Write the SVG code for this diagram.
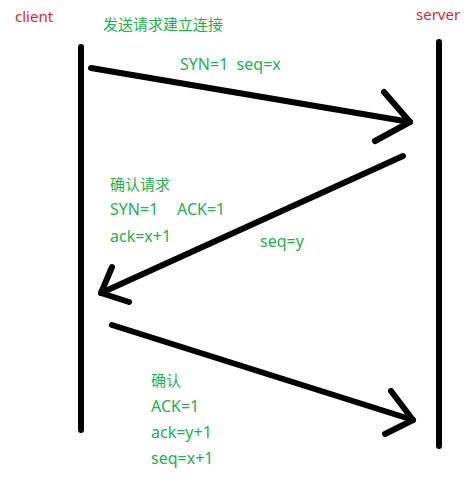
<svg xmlns="http://www.w3.org/2000/svg" width="476" height="490" viewBox="0 0 476 490">
<style>
.ln{stroke:#000;stroke-width:6;stroke-linecap:round;stroke-linejoin:round;fill:none}
.g{fill:#22b14c;font-family:"Noto Sans","Noto Sans CJK SC",sans-serif;font-size:16px}
.c{font-size:15px}
.r{fill:#ed1c24;font-family:"Noto Sans","Noto Sans CJK SC",sans-serif;font-size:15px}
</style>
<rect width="476" height="490" fill="#fff"/>
<g id="client">
<text class="r" x="15" y="22">client</text>
<line class="ln" x1="81" y1="47" x2="81" y2="430"/>
</g>
<g id="server">
<text class="r" x="416" y="20">server</text>
<line class="ln" x1="439" y1="42" x2="439" y2="446"/>
</g>
<g id="connectors">
<line class="ln" x1="91" y1="68" x2="410" y2="122"/>
<polyline class="ln" points="384,92 410,122 375,141"/>
<line class="ln" x1="403" y1="156" x2="101" y2="293"/>
<polyline class="ln" points="112,267 101,293 129,302"/>
<line class="ln" x1="112" y1="325" x2="413" y2="420"/>
<polyline class="ln" points="391,391 413,420 385,434"/>
</g>
<g id="labels">
<text class="g c" x="103" y="30">发送请求建立连接</text>
<text class="g" x="180" y="70" xml:space="preserve">SYN=1  seq=x</text>
<text class="g c" x="110" y="190">确认请求</text>
<text class="g" x="110" y="215">SYN=1</text>
<text class="g" x="177" y="215">ACK=1</text>
<text class="g" x="110" y="242">ack=x+1</text>
<text class="g" x="260" y="247">seq=y</text>
<text class="g c" x="151" y="386">确认</text>
<text class="g" x="151" y="412">ACK=1</text>
<text class="g" x="151" y="438">ack=y+1</text>
<text class="g" x="151" y="464">seq=x+1</text>
</g>
</svg>
